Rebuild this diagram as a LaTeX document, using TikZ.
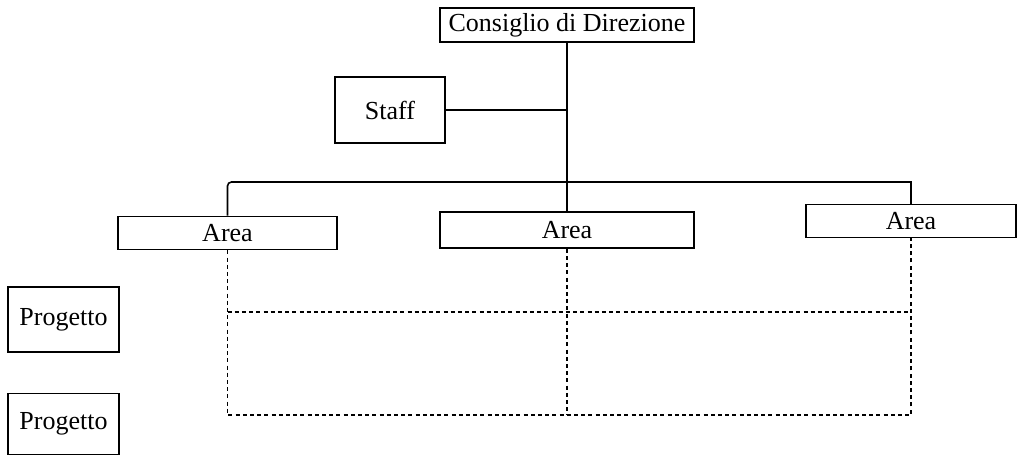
\documentclass[tikz,border=0pt]{standalone}
\usepackage{fontspec}
\setmainfont{Liberation Serif}
\usepackage{tikz}
\usetikzlibrary{positioning}
\tikzset{box/.style={draw,line width=0.8pt,inner sep=0pt,font=\fontsize{13}{15}\selectfont}}
\tikzset{grid/.style={line width=0.8pt,dash pattern=on 2pt off 1.6pt}}

\begin{document}
\begin{tikzpicture}[x=0.5pt,y=-0.5pt,line width=0.8pt]
  \useasboundingbox (0,0) rectangle (1021,465);
  \node(cons)[box,minimum width=127pt,minimum height=17pt] at (567,25) {Consiglio di Direzione};
  \node(staff)[box,minimum width=55pt,minimum height=33pt] at (390,110) {Staff};
  \node(area1)[box,minimum width=109.5pt,minimum height=16.5pt] at (227.5,233) {Area};
  \node(area2)[box,minimum width=127pt,minimum height=18pt] at (567,230) {Area};
  \node(area3)[box,minimum width=105pt,minimum height=16.5pt] at (911,221) {Area};
  \node(prog1)[box,minimum width=55.5pt,minimum height=32.5pt] at (63.5,319.5) {Progetto};
  \node(prog2)[box,minimum width=55.5pt,minimum height=30.5pt,below=20pt of prog1] {Progetto};
  \coordinate(bus) at (567,182);
  \coordinate(mid) at (0,312);
  \coordinate(bot) at (0,415);
  \draw (cons.south) -- (area2.north);
  \draw (staff.east) -- (staff.east -| cons.south);
  \draw[rounded corners=2pt] (area1.north) |- (bus);
  \draw (bus) -| (area3.north);
  % matrice
  \draw[grid] (area1.south) -- (area1.south |- bot) -| (area3.south);
  \draw[grid] (area2.south) -- (area2.south |- bot);
  \draw[grid] (area1.south |- mid) -- (area3.south |- mid);
\end{tikzpicture}
\end{document}
